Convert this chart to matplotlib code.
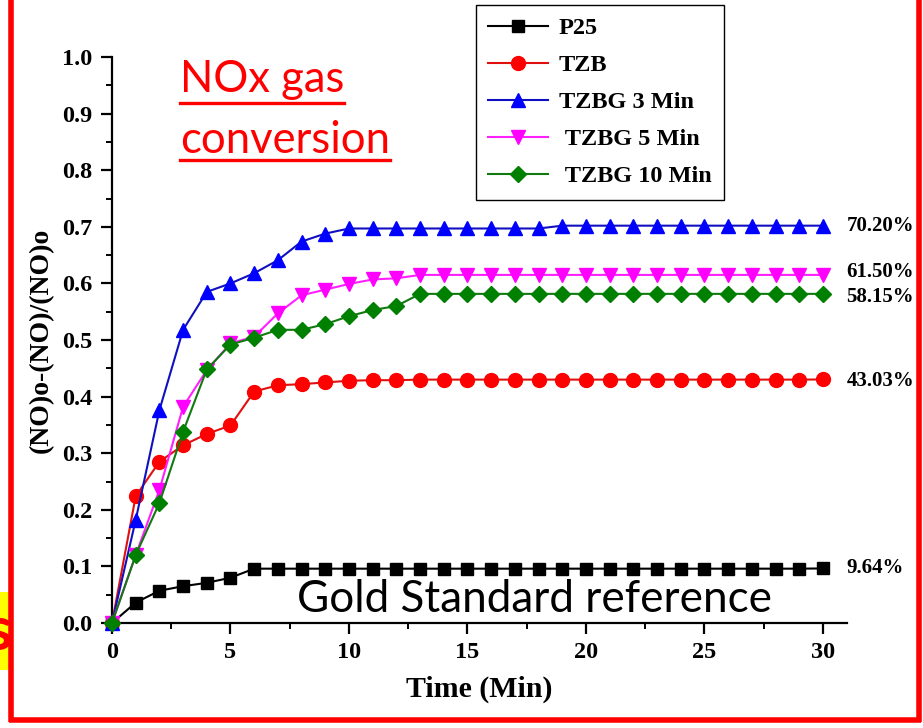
import matplotlib
matplotlib.use("Agg")
import matplotlib.pyplot as plt
from matplotlib.lines import Line2D
from matplotlib.patches import Rectangle
from matplotlib.ticker import MultipleLocator, FormatStrFormatter

# --- DATA ---
time_min = [0, 1, 2, 3, 4, 5, 6, 7, 8, 9, 10, 11, 12, 13, 14, 15,
            16, 17, 18, 19, 20, 21, 22, 23, 24, 25, 26, 27, 28, 29, 30]

p25 = [0.0, 0.036, 0.057, 0.065, 0.071, 0.080, 0.096, 0.096, 0.096, 0.096, 0.096,
       0.096, 0.096, 0.096, 0.096, 0.096, 0.096, 0.096, 0.096, 0.096, 0.096,
       0.096, 0.096, 0.096, 0.096, 0.096, 0.096, 0.096, 0.096, 0.096, 0.0964]
tzb = [0.0, 0.224, 0.285, 0.314, 0.334, 0.349, 0.409, 0.420, 0.422, 0.425, 0.428,
       0.429, 0.429, 0.430, 0.430, 0.430, 0.430, 0.430, 0.430, 0.430, 0.430,
       0.430, 0.430, 0.430, 0.430, 0.430, 0.430, 0.430, 0.430, 0.430, 0.4303]
tzbg_3 = [0.0, 0.182, 0.376, 0.518, 0.585, 0.600, 0.618, 0.641, 0.674, 0.688, 0.697,
          0.697, 0.697, 0.697, 0.697, 0.697, 0.697, 0.697, 0.697, 0.702, 0.702,
          0.702, 0.702, 0.702, 0.702, 0.702, 0.702, 0.702, 0.702, 0.702, 0.702]
tzbg_5 = [0.0, 0.120, 0.235, 0.382, 0.447, 0.494, 0.506, 0.547, 0.579, 0.589, 0.599,
          0.607, 0.609, 0.615, 0.615, 0.615, 0.615, 0.615, 0.615, 0.615, 0.615,
          0.615, 0.615, 0.615, 0.615, 0.615, 0.615, 0.615, 0.615, 0.615, 0.615]
tzbg_10 = [0.0, 0.120, 0.212, 0.338, 0.448, 0.492, 0.504, 0.518, 0.518, 0.528, 0.542,
           0.553, 0.560, 0.5815, 0.5815, 0.5815, 0.5815, 0.5815, 0.5815, 0.5815, 0.5815,
           0.5815, 0.5815, 0.5815, 0.5815, 0.5815, 0.5815, 0.5815, 0.5815, 0.5815, 0.5815]

series_names = ["P25", "TZB", "TZBG 3 Min", " TZBG 5 Min", " TZBG 10 Min"]
final_labels = ["9.64%", "43.03%", "70.20%", "61.50%", "58.15%"]

# --- STYLE ---
colors = ["#000000", "#ff0000", "#0000ff", "#ff00ff", "#008000"]
line_colors = ["#000000", "#e01010", "#1010c0", "#ff20ff", "#107a10"]
markers = ["s", "o", "^", "v", "D"]
msizes = [8, 10, 10.5, 10.5, 8.5]
label_dy = [0, -1, 0, 2, -2]   # points, nudges for the end labels

serif = "Liberation Serif"
W, H = 923, 728

fig = plt.figure(figsize=(W / 100, H / 100), dpi=100)
ax = fig.add_axes([112 / W, 1 - 623 / H, 31 * 23.7 / W, 566 / H])

for ys, name, c, lc, m, ms in zip([p25, tzb, tzbg_3, tzbg_5, tzbg_10], series_names,
                                  colors, line_colors, markers, msizes):
    ax.plot(time_min, ys, color=lc, lw=1.5, marker=m, markersize=ms,
            markerfacecolor=c, markeredgecolor=c, label=name, clip_on=False, zorder=3)

for ys, lbl, dy in zip([p25, tzb, tzbg_3, tzbg_5, tzbg_10], final_labels, label_dy):
    ax.annotate(lbl, xy=(time_min[-1], ys[-1]), xytext=(17, dy), textcoords="offset points",
                va="center", ha="left", fontsize=15, fontweight="bold", family=serif,
                annotation_clip=False)

ax.set_xlim(0, 31)
ax.set_ylim(0, 1.0)
ax.spines["top"].set_visible(False)
ax.spines["right"].set_visible(False)
for s in ["left", "bottom"]:
    ax.spines[s].set_linewidth(1.6)

ax.xaxis.set_major_locator(MultipleLocator(5))
ax.xaxis.set_minor_locator(MultipleLocator(2.5))
ax.yaxis.set_major_locator(MultipleLocator(0.1))
ax.yaxis.set_minor_locator(MultipleLocator(0.05))
ax.yaxis.set_major_formatter(FormatStrFormatter("%.1f"))
ax.tick_params(which="major", direction="out", length=8, width=1.6, labelsize=17.5, pad=6)
ax.tick_params(which="minor", direction="out", length=4.5, width=1.4)
for t in ax.get_xticklabels() + ax.get_yticklabels():
    t.set_fontfamily(serif)
    t.set_fontweight("bold")

ax.set_xlabel("Time (Min)", fontsize=21.5, fontweight="bold", family=serif, labelpad=9)
ax.set_ylabel("(NO)o-(NO)/(NO)o", fontsize=20, fontweight="bold", family=serif, labelpad=6)

leg = fig.legend(loc="upper left", bbox_to_anchor=(476 / W, 1 - 5 / H), borderaxespad=0,
                 prop={"family": serif, "weight": "bold", "size": 17.5},
                 frameon=True, fancybox=False, edgecolor="black", framealpha=1,
                 handlelength=2.45, handletextpad=0.45, labelspacing=0.62,
                 borderpad=0.5, numpoints=1)
leg.get_frame().set_linewidth(1.0)

# overlaid slide annotations
t1 = fig.text(180 / W, 1 - 92 / H, "NOx gas", color="red", fontsize=31.4, family="Lato")
t2 = fig.text(180 / W, 1 - 153 / H, "conversion", color="red", fontsize=31.4, family="Lato")
fig.text(297 / W, 1 - 612 / H, "Gold Standard reference", color="black", fontsize=31.7,
         family="Lato")

fig.canvas.draw()
r = fig.canvas.get_renderer()
for t, yline in [(t1, 103), (t2, 160)]:
    bb = t.get_window_extent(r)
    fig.add_artist(Line2D([bb.x0 / W, bb.x1 / W], [1 - yline / H, 1 - yline / H],
                          transform=fig.transFigure, color="red", lw=2.4))

# left-edge leftover from slide
fig.add_artist(Rectangle((0, 1 - 670 / H), 10 / W, 78 / H, transform=fig.transFigure,
                         facecolor="#ffff00", edgecolor="none", zorder=5))
fig.text(12 / W, 1 - 632 / H, "s", color="red", fontsize=44, fontweight="bold",
         family="Lato", ha="right", va="center", zorder=6)

# red slide border
red_kw = dict(transform=fig.transFigure, color="red", lw=4.0, zorder=7,
              solid_capstyle="butt")
fig.add_artist(Line2D([11 / W, 11 / W], [1 - 722 / H, 1], **red_kw))
fig.add_artist(Line2D([919 / W, 919 / W], [1 - 722 / H, 1], **red_kw))
fig.add_artist(Line2D([9 / W, 921 / W], [1 - 720 / H, 1 - 720 / H], **red_kw))

fig.savefig("out.png", dpi=100)
